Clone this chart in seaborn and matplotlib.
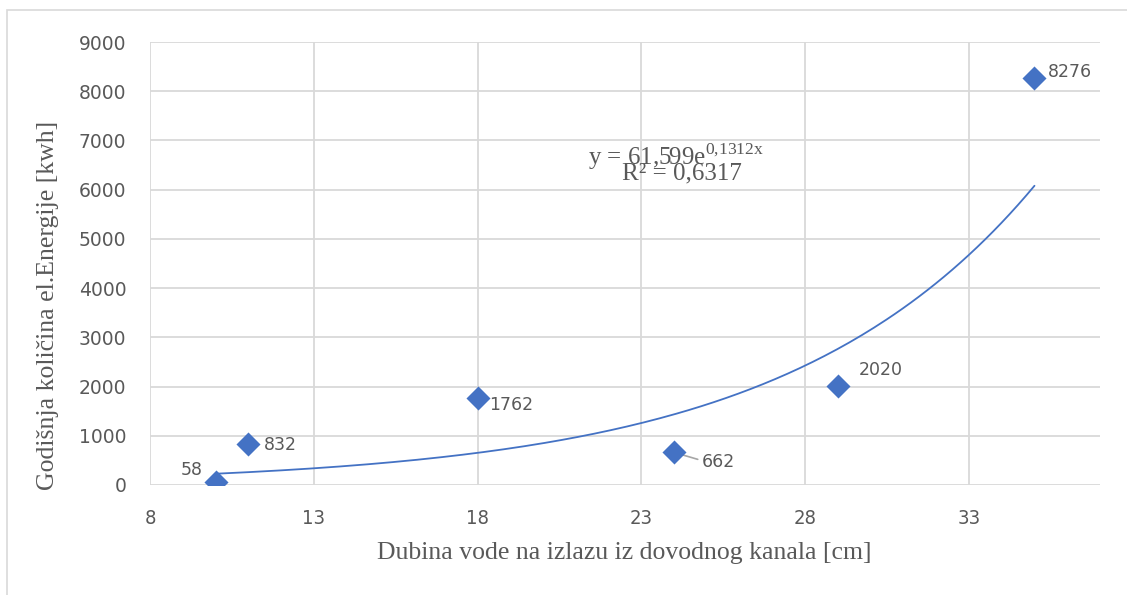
import numpy as np
import pandas as pd
import seaborn as sns
import matplotlib.pyplot as plt
from matplotlib.patches import Rectangle

# Measured points: water depth at the channel outlet vs. annual energy
depth_cm = [10, 11, 18, 24, 29, 35]
energy_kwh = [58, 832, 1762, 662, 2020, 8276]
point_labels = ["58", "832", "1762", "662", "2020", "8276"]

# Exponential trend line coefficients (y = A * e^(B x)) and fit quality
trend_a = 61.599
trend_b = 0.1312
r_squared = "0,6317"

x_ticks = [8, 13, 18, 23, 28, 33]
y_ticks = [0, 1000, 2000, 3000, 4000, 5000, 6000, 7000, 8000, 9000]

blue = "#4472C4"
gray_text = "#595959"
grid_gray = "#D9D9D9"

sns.set_theme(style="white")
plt.rcParams["font.family"] = ["DejaVu Sans"]
plt.rcParams["mathtext.fontset"] = "custom"
plt.rcParams["mathtext.rm"] = "Liberation Serif"

fig = plt.figure(figsize=(11.27, 5.95), dpi=100)
ax = fig.add_axes([150 / 1127, 1 - 485 / 595, (1100 - 150) / 1127, (485 - 42) / 595])

points = pd.DataFrame({"depth": depth_cm, "energy": energy_kwh})
trend_x = np.linspace(min(depth_cm), max(depth_cm), 200)
trend = pd.DataFrame({"depth": trend_x, "energy": trend_a * np.exp(trend_b * trend_x)})

sns.lineplot(data=trend, x="depth", y="energy", ax=ax, color=blue, linewidth=1.3, zorder=3)
sns.scatterplot(data=points, x="depth", y="energy", ax=ax, marker="D", s=150,
                color=blue, edgecolor=blue, linewidth=0, zorder=4)

ax.set_xlim(8, 37)
ax.set_ylim(0, 9000)
ax.set_xticks(x_ticks)
ax.set_yticks(y_ticks)
ax.grid(True, color=grid_gray, linewidth=1.3)
ax.set_axisbelow(True)
for side in ["top", "right", "left", "bottom"]:
    ax.spines[side].set_visible(False)
ax.tick_params(axis="both", length=0)
ax.tick_params(axis="y", labelsize=13.5, labelcolor=gray_text, pad=17)
ax.tick_params(axis="x", labelsize=14.5, labelcolor=gray_text, pad=17)
for lab in ax.get_xticklabels():
    lab.set_fontstretch("condensed")

ax.set_xlabel("Dubina vode na izlazu iz dovodnog kanala [cm]", family="Liberation Serif",
              fontsize=18.5, color=gray_text)
ax.set_ylabel("Godišnja količina el.Energije [kwh]", family="Liberation Serif",
              fontsize=18.5, color=gray_text)
ax.xaxis.set_label_coords(0.499, -0.128)
ax.yaxis.set_label_coords(-0.096, 0.406)

# Data labels with offsets in points
offsets = {
    "58": (-25, 9),
    "832": (11, -1),
    "1762": (8, -5),
    "662": (20, -7),
    "2020": (15, 11),
    "8276": (10, 4),
}
for x, y, lab in zip(depth_cm, energy_kwh, point_labels):
    dx, dy = offsets[lab]
    ax.annotate(lab, (x, y), xytext=(dx, dy), textcoords="offset points",
                ha="left", va="center", fontsize=12.5, color=gray_text, zorder=5)

# Leader line for the 662 label
ax.annotate("", (depth_cm[3], energy_kwh[3]), xytext=(17, -5), textcoords="offset points",
            arrowprops=dict(arrowstyle="-", color="#A6A6A6", lw=1.2,
                            shrinkA=0, shrinkB=4), zorder=3)

# Trend line equation and R²
ax.text(24.05, 6680, r"y = 61,599e$^{\mathregular{0{,}1312x}}$", family="Liberation Serif",
        fontsize=18, color=gray_text, ha="center", va="center", zorder=5)
ax.text(24.25, 6330, "R² = " + r_squared, family="Liberation Serif",
        fontsize=18, color=gray_text, ha="center", va="center", zorder=5)

# Chart area border
fig.patches.append(Rectangle((7 / 1127, -0.05), 1.1, 1 - 10 / 595 + 0.05,
                             transform=fig.transFigure, fill=False,
                             edgecolor=grid_gray, linewidth=1.2))

fig.savefig("out.png", dpi=100)
